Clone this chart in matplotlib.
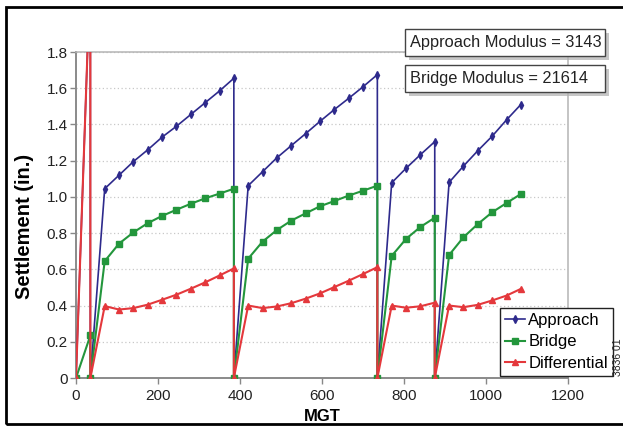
#!/usr/bin/env python3
"""Settlement of approach and bridge versus MGT, with the differential."""

import matplotlib
matplotlib.use("Agg")
import matplotlib.pyplot as plt
from matplotlib.patches import Rectangle

# MGT for each reading; repeated values are the vertical resets to zero
MGT = [0, 35, 35, 70, 105, 140, 175, 210, 245, 280, 315, 350, 385, 385,
       420, 455, 490, 525, 560, 595, 630, 665, 700, 735, 735,
       770, 805, 840, 875, 875, 910, 945, 980, 1015, 1050, 1085]

APPROACH = [0, 2.25, 0, 1.045, 1.12, 1.195, 1.26, 1.33, 1.39, 1.455, 1.52, 1.585, 1.655, 0,
            1.062, 1.139, 1.216, 1.283, 1.349, 1.417, 1.482, 1.544, 1.608, 1.675, 0,
            1.078, 1.158, 1.233, 1.305, 0, 1.08, 1.17, 1.255, 1.335, 1.425, 1.51]

BRIDGE = [0, 0.235, 0, 0.645, 0.742, 0.804, 0.855, 0.895, 0.929, 0.962, 0.992, 1.018, 1.045, 0,
          0.659, 0.753, 0.817, 0.869, 0.909, 0.948, 0.977, 1.007, 1.034, 1.062, 0,
          0.674, 0.768, 0.834, 0.885, 0, 0.679, 0.777, 0.850, 0.915, 0.966, 1.016]

DIFFERENTIAL = [0, 2.25, 0, 0.397, 0.378, 0.386, 0.405, 0.432, 0.460, 0.493, 0.528, 0.566, 0.605, 0,
                0.400, 0.386, 0.395, 0.413, 0.438, 0.467, 0.502, 0.537, 0.574, 0.612, 0,
                0.400, 0.388, 0.396, 0.416, 0, 0.400, 0.391, 0.404, 0.428, 0.455, 0.492]

X_TICKS = [0, 200, 400, 600, 800, 1000, 1200]
Y_TICKS = [0, 0.2, 0.4, 0.6, 0.8, 1.0, 1.2, 1.4, 1.6, 1.8]
Y_TICK_LABELS = ["0", "0.2", "0.4", "0.6", "0.8", "1.0", "1.2", "1.4", "1.6", "1.8"]

BOX_TEXTS = ["Approach Modulus = 3143", "Bridge Modulus = 21614"]

BLUE = "#2e2a8c"
GREEN = "#23963c"
RED = "#e4383c"

plt.rcParams["font.family"] = ["Liberation Sans", "DejaVu Sans"]

W, H = 623, 426
fig = plt.figure(figsize=(W / 100, H / 100), dpi=100)
ax = fig.add_axes([76 / W, 1 - 378 / H, (568 - 76) / W, (378 - 52) / H])


def fx(px):
    return px / W


def fy(py):
    return 1 - py / H


ax.plot(MGT, APPROACH, color=BLUE, lw=1.2, marker="d", ms=3.6, label="Approach", zorder=3)
ax.plot(MGT, BRIDGE, color=GREEN, lw=1.5, marker="s", ms=4.2, label="Bridge", zorder=4)
ax.plot(MGT, DIFFERENTIAL, color=RED, lw=1.5, marker="^", ms=4.6, label="Differential", zorder=5)

ax.set_xlim(0, 1200)
ax.set_ylim(0, 1.8)
ax.set_xticks(X_TICKS)
ax.set_yticks(Y_TICKS)
ax.set_yticklabels(Y_TICK_LABELS)
ax.tick_params(labelsize=11, colors="#888888", labelcolor="#222222", length=4, width=1, pad=2)
ax.tick_params(axis="x", pad=4)
ax.yaxis.grid(True, ls=(0, (1, 2)), color="#c8c8c8", lw=0.9)
for side in ["left", "bottom"]:
    ax.spines[side].set_color("#8a8a8a")
    ax.spines[side].set_linewidth(1.4)
for side in ["top", "right"]:
    ax.spines[side].set_color("#b4b4b4")
    ax.spines[side].set_linewidth(1.1)

ax.set_xlabel("MGT", fontsize=12, fontweight="bold", labelpad=4.5)
ax.set_ylabel("Settlement (in.)", fontsize=14.5, fontweight="bold")
ax.yaxis.set_label_coords(-0.085, 0.466)

# legend sits partly outside the plot area
fig.legend(loc="lower left", bbox_to_anchor=(fx(500), fy(376)), fontsize=12,
           frameon=True, fancybox=False, edgecolor="#222222", framealpha=1,
           handlelength=1.2, handletextpad=0.2, labelspacing=0.4, borderpad=0.3,
           borderaxespad=0)

# modulus boxes with drop shadow
for i, txt in enumerate(BOX_TEXTS):
    top = 29 + i * 36
    fig.patches.append(Rectangle((fx(409), fy(top + 31)), 200 / W, 27 / H,
                                 transform=fig.transFigure, facecolor="#b0b0b0",
                                 edgecolor="none", alpha=0.7, zorder=1))
    fig.patches.append(Rectangle((fx(405), fy(top + 27)), 200 / W, 27 / H,
                                 transform=fig.transFigure, facecolor="white",
                                 edgecolor="#444444", lw=1, zorder=2))
    fig.text(fx(410), fy(top + 13.5), txt, fontsize=11.8, color="#222222",
             ha="left", va="center", zorder=3)

fig.text(fx(618), fy(357), "3836 01", fontsize=7.5, rotation=90, ha="center", va="center",
         color="#222222", zorder=20)

# outer frame of the figure
fig.patches.append(Rectangle((fx(6), fy(424)), 1.0, (424 - 7) / H, transform=fig.transFigure,
                             facecolor="none", edgecolor="black", lw=2, zorder=10))

fig.savefig("out.png", dpi=100)
